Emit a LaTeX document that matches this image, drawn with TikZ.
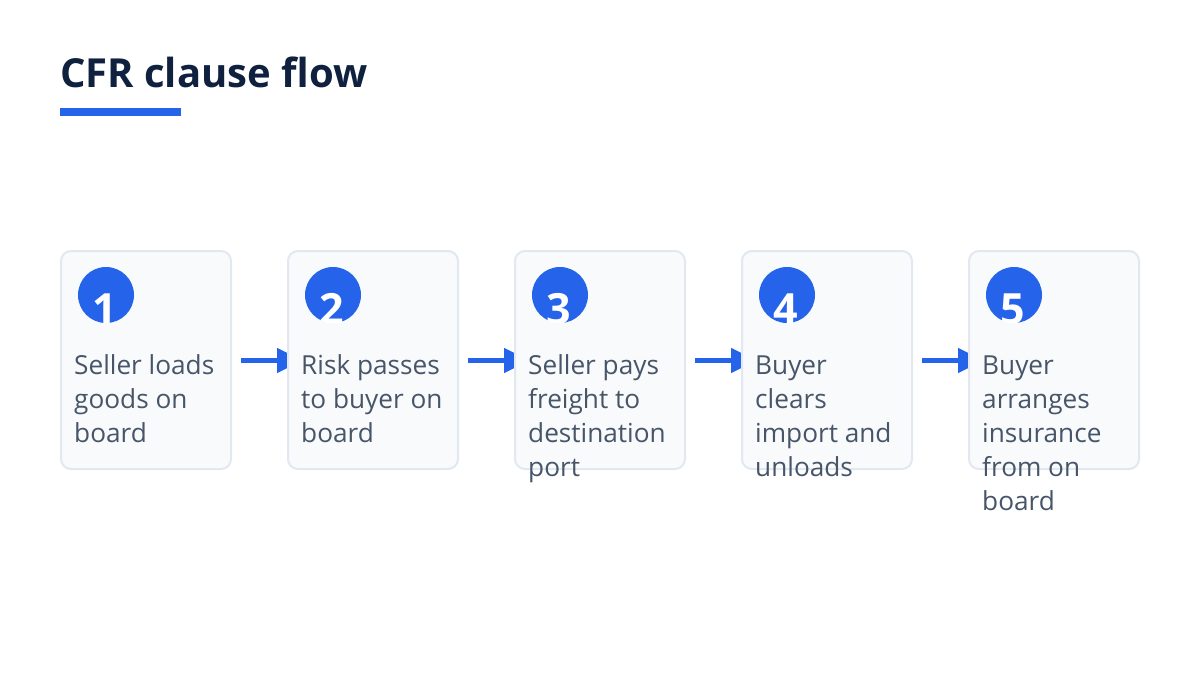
\documentclass[tikz,border=0pt]{standalone}
\usepackage{fontspec}
\setmainfont{Open Sans}
\usetikzlibrary{arrows.meta}
\definecolor{titlec}{HTML}{0F213F}
\definecolor{accent}{HTML}{2563EB}
\definecolor{boxfill}{HTML}{F8FAFC}
\definecolor{boxline}{HTML}{E2E8F0}
\definecolor{textc}{HTML}{475569}
\tikzset{
  stepbox/.style={draw=boxline, line width=2pt, fill=boxfill, rounded corners=10pt},
  badge/.style={fill=accent},
  numtext/.style={text=white, font=\fontsize{43}{43}\selectfont\bfseries, inner sep=0pt, anchor=base},
  bodytext/.style={text=textc, inner sep=0pt, anchor=base west},
  flowarrow/.style={draw=accent, line width=4.5pt, -{Triangle[length=26pt, width=24pt]}},
}
\newcommand{\bodylines}[1]{\parbox[t]{220pt}{\fontsize{26.2}{34}\selectfont\raggedright #1}}
\begin{document}
\begin{tikzpicture}[x=1pt, y=-1pt]
\useasboundingbox (0,0) rectangle (1200,675);
\fill[white] (0,0) rectangle (1200,675);
% title
\node[anchor=base west, inner sep=0pt, text=titlec, font=\fontsize{40}{40}\selectfont\bfseries] (title) at (60,87) {CFR clause flow};
\fill[accent] (60,108) rectangle (181,116);
% arrow endpoints
\foreach \i/\x in {1/241,2/468,3/695,4/922}{
  \coordinate (a\i) at (\x,360.5);
  \coordinate (b\i) at (\x+62,360.5);
}
\foreach \i in {1,...,4}{ \draw[flowarrow] (a\i) -- (b\i); }
% boxes
\foreach \i/\x in {1/61,2/288,3/515,4/742,5/969}{
  \path[stepbox] (\x,251) rectangle (\x+170,469);
  \coordinate (box\i) at (\x,251);
  \fill[badge] (\x+45,295) circle (28);
  \begin{scope}
    \clip (\x+45,295) circle (28);
    \node[numtext] (n\i) at (\x+44,324.5) {\i};
  \end{scope}
}
\node[bodytext] (t1) at (74,374) {\bodylines{Seller loads\\goods on\\board}};
\node[bodytext] (t2) at (301,374) {\bodylines{Risk passes\\to buyer on\\board}};
\node[bodytext] (t3) at (528,374) {\bodylines{Seller pays\\freight to\\destination\\port}};
\node[bodytext] (t4) at (755,374) {\bodylines{Buyer\\clears\\import and\\unloads}};
\node[bodytext] (t5) at (982,374) {\bodylines{Buyer\\arranges\\insurance\\from on\\board}};
\end{tikzpicture}
\end{document}
